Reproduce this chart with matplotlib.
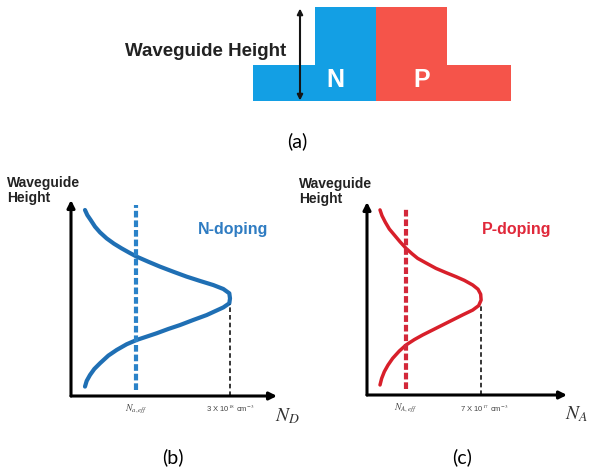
import matplotlib.pyplot as plt

plt.rcParams['font.family'] = ['Liberation Sans', 'DejaVu Sans']
plt.rcParams['mathtext.fontset'] = 'stix'

W, H = 590, 473

# (a) rib waveguide cross-section: lateral position / height (a.u.)
seg_left = [0, 62, 123, 194]
seg_width = [62, 61, 71, 64]
seg_height = [36.5, 94, 94, 36.5]
seg_color = ['#139fe4', '#139fe4', '#f5544a', '#f5544a']
arrow_x = 47

# (b) N-doping profile, concentration in 1e18 cm^-3 vs normalised height
n_conc = [0.264, 0.308, 0.371, 0.453, 0.547, 0.673, 0.811, 0.956, 1.101, 1.239,
          1.459, 1.679, 1.931, 2.182, 2.434, 2.686, 2.874, 2.987, 3.0, 2.987,
          2.874, 2.560, 2.308, 2.057, 1.836, 1.616, 1.428, 1.239, 1.050, 0.862,
          0.704, 0.547, 0.440, 0.358, 0.296, 0.264]
n_height = [0.949, 0.923, 0.898, 0.864, 0.835, 0.804, 0.777, 0.753, 0.731, 0.711,
            0.685, 0.660, 0.634, 0.609, 0.587, 0.566, 0.546, 0.524, 0.498, 0.473,
            0.452, 0.413, 0.388, 0.362, 0.342, 0.320, 0.303, 0.286, 0.264, 0.235,
            0.206, 0.167, 0.138, 0.107, 0.077, 0.048]
n_eff = 1.23
n_peak = 3.0
n_peak_height = 0.498

# (c) P-doping profile, concentration in 1e17 cm^-3 vs normalised height
p_conc = [0.798, 0.920, 1.125, 1.370, 1.677, 2.025, 2.393, 2.761, 3.108, 3.620,
          4.233, 4.847, 5.460, 5.971, 6.483, 6.810, 6.973, 7.0, 6.851, 6.483,
          5.869, 5.256, 4.642, 4.029, 3.415, 2.904, 2.393, 1.984, 1.575, 1.288,
          1.063, 0.900, 0.798]
p_height = [0.959, 0.929, 0.895, 0.860, 0.829, 0.794, 0.760, 0.732, 0.708, 0.684,
            0.656, 0.634, 0.613, 0.594, 0.570, 0.548, 0.522, 0.492, 0.463, 0.440,
            0.415, 0.389, 0.363, 0.337, 0.311, 0.287, 0.259, 0.228, 0.190, 0.155,
            0.121, 0.086, 0.052]
p_eff = 2.4
p_peak = 7.0
p_peak_height = 0.492


def fig_xy(x, y):
  return x / W, 1 - y / H


def axis_arrows(ax):
  for xy in [(1, 0), (0, 1)]:
    ax.annotate('', xy=xy, xytext=(0, 0), xycoords='axes fraction',
                arrowprops=dict(arrowstyle='-|>', color='k', lw=2.2,
                                mutation_scale=11, shrinkA=0, shrinkB=0))
  ax.set_axis_off()


def profile(ax, conc, height, eff, peak, peak_h, color, lw, dash_color):
  ax.plot(conc, height, color=color, lw=lw, solid_capstyle='round',
          solid_joinstyle='round')
  ax.plot([eff, eff], [0.03, 0.975], color=dash_color, lw=3.0,
          dashes=(1.6, 0.7))
  ax.plot([peak, peak], [0, peak_h - 0.03], color='k', lw=1.1, dashes=(3, 2))


fig = plt.figure(figsize=(5.9, 4.73), dpi=100)

# ---- (a) cross-section
ax_a = fig.add_axes([253 / W, 1 - 101.5 / H, 258 / W, 94 / H])
ax_a.bar(seg_left, seg_height, width=seg_width, align='edge', color=seg_color,
         edgecolor='none')
ax_a.set_xlim(0, 258)
ax_a.set_ylim(0, 94)
ax_a.set_axis_off()
ax_a.annotate('', xy=(arrow_x, 93), xytext=(arrow_x, 1),
              arrowprops=dict(arrowstyle='<|-|>', color='#151515', lw=1.5,
                              mutation_scale=8, shrinkA=0, shrinkB=0))
ax_a.text(33, 49.5, 'Waveguide Height', ha='right', va='center',
          fontsize=13.5, fontweight='bold', color='#222222')
ax_a.text(82, 21.5, 'N', ha='center', va='center', fontsize=18,
          fontweight='bold', color='white')
ax_a.text(169, 21.5, 'P', ha='center', va='center', fontsize=18,
          fontweight='bold', color='white')
fig.text(*fig_xy(297, 141), '(a)', ha='center', va='center', fontsize=14,
         family=['Lato', 'DejaVu Sans'])

# ---- (b) N-doping
ax_b = fig.add_axes([71 / W, 1 - 396 / H, 206 / W, 196 / H])
ax_b.set_xlim(0, 206 / 53)
ax_b.set_ylim(0, 1)
axis_arrows(ax_b)
profile(ax_b, n_conc, n_height, n_eff, n_peak, n_peak_height,
        '#1f6fb4', 3.0, '#2a82c8')
ax_b.text(n_eff, -0.07, r'$N_{a,eff}$', ha='center', va='center',
          fontsize=7, color='#444444')
ax_b.text(n_peak, -0.065, r'3 X 10$^{18}$ cm$^{-3}$', ha='center',
          va='center', fontsize=5.5, color='#444444')
ax_b.text(4.08, -0.105, r'$N_D$', ha='center', va='center', fontsize=14,
          color='#333333')
ax_b.text(3.06, 0.847, 'N-doping', ha='center', va='center', fontsize=11.5,
          fontweight='bold', color='#2f7cc2')
fig.text(*fig_xy(7, 176), 'Waveguide\nHeight', ha='left', va='top',
         fontsize=10, fontweight='bold', color='#222222', linespacing=1.05)
fig.text(*fig_xy(173, 457), '(b)', ha='center', va='center', fontsize=14,
         family=['Lato', 'DejaVu Sans'])

# ---- (c) P-doping
ax_c = fig.add_axes([367 / W, 1 - 395 / H, 200 / W, 193 / H])
ax_c.set_xlim(0, 200 / 16.3)
ax_c.set_ylim(0, 1)
axis_arrows(ax_c)
profile(ax_c, p_conc, p_height, p_eff, p_peak, p_peak_height,
        '#d81f2a', 2.5, '#d3283a')
ax_c.text(p_eff, -0.07, r'$N_{A,eff}$', ha='center', va='center',
          fontsize=7, color='#444444')
ax_c.text(p_peak + 0.2, -0.07, r'7 X 10$^{17}$ cm$^{-3}$', ha='center',
          va='center', fontsize=5.5, color='#444444')
ax_c.text(13.55, -0.10, r'$N_A$', ha='right', va='center', fontsize=14,
          color='#333333')
ax_c.text(9.2, 0.855, 'P-doping', ha='center', va='center', fontsize=11.5,
          fontweight='bold', color='#e0283a')
fig.text(*fig_xy(299, 177), 'Waveguide\nHeight', ha='left', va='top',
         fontsize=10, fontweight='bold', color='#222222', linespacing=1.05)
fig.text(*fig_xy(462, 457), '(c)', ha='center', va='center', fontsize=14,
         family=['Lato', 'DejaVu Sans'])

fig.savefig('out.png', dpi=100)
